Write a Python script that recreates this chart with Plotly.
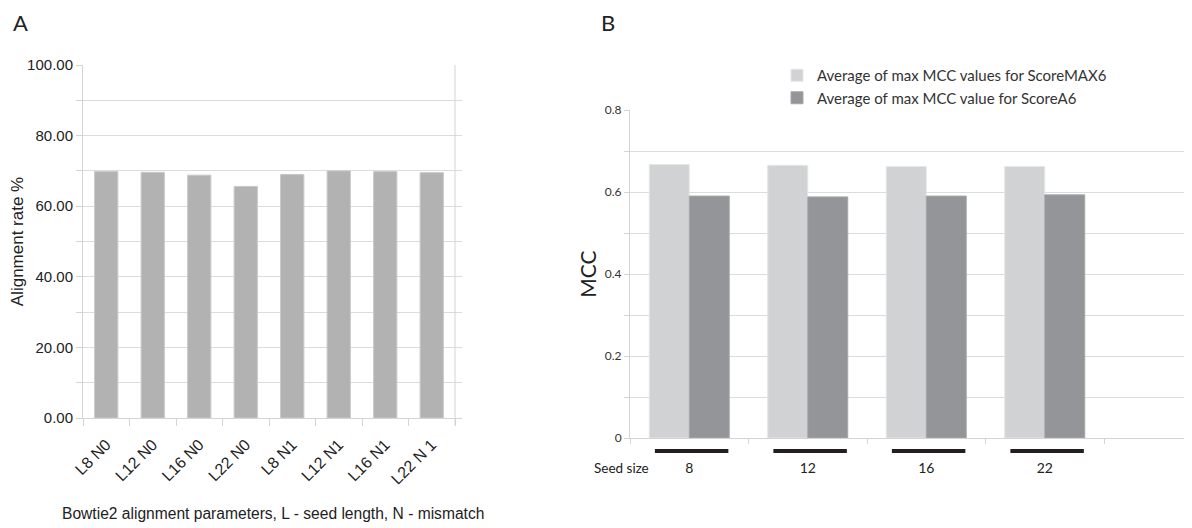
import plotly.graph_objects as go

# ---------------- data ----------------
a_categories = ["L8 N0", "L12 N0", "L16 N0", "L22 N0", "L8 N1", "L12 N1", "L16 N1", "L22 N 1"]
a_values = [69.8, 69.6, 68.8, 65.6, 69.0, 70.0, 69.8, 69.5]

b_seed_sizes = ["8", "12", "16", "22"]
b_scoremax6 = [0.667, 0.665, 0.662, 0.662]
b_scorea6 = [0.590, 0.588, 0.590, 0.593]
b_names = ["Average of max MCC values for ScoreMAX6", "Average of max MCC value for ScoreA6"]

# page body has an 8px margin: the figure fills the rest of the 1192x528 window
OFF = 8
W, H = 1192 - OFF, 528 - OFF


def px(x):
    return (x - OFF) / W


def py(y):
    return 1 - (y - OFF) / H


FA = "Liberation Sans, Arial, sans-serif"
FB = "Lato, sans-serif"
GRID = "#dcdcdc"
LINE = "#d4d4d4"

fig = go.Figure()

a_x = list(range(len(a_categories)))
fig.add_trace(go.Bar(
    x=a_x, y=a_values, width=0.5,
    marker=dict(color="#b2b2b2", line=dict(color="#c8c8c8", width=1)),
    showlegend=False, xaxis="x", yaxis="y",
))

b_x = list(range(len(b_seed_sizes)))
fig.add_trace(go.Bar(
    x=b_x, y=b_scoremax6, name=b_names[0],
    marker=dict(color="#d1d2d4", line=dict(color="#e4e5e6", width=1)),
    xaxis="x2", yaxis="y2",
))
fig.add_trace(go.Bar(
    x=b_x, y=b_scorea6, name=b_names[1],
    marker=dict(color="#939598", line=dict(color="#a4a6a8", width=1)),
    xaxis="x2", yaxis="y2",
))

# panel geometry (window pixels)
a_left, a_right, a_top, a_bottom = 83, 462, 65, 418
a_cat_px = 46.5
b_left, b_right, b_top, b_bottom = 630, 1192, 110, 438
b_cat_px = 118.5

a_range = [-0.5, -0.5 + (a_right - a_left) / a_cat_px]
b_range = [-0.5, -0.5 + (b_right - b_left) / b_cat_px]

fig.update_layout(
    width=W, height=H,
    margin=dict(l=0, r=0, t=0, b=0, autoexpand=False),
    paper_bgcolor="white", plot_bgcolor="white",
    barmode="group", bargap=0.325, bargroupgap=0,
    showlegend=True,
    legend=dict(
        x=px(777), y=py(59), xanchor="left", yanchor="top",
        font=dict(family=FB, size=15, color="#333"),
        bgcolor="rgba(0,0,0,0)", tracegroupgap=0,
    ),
    xaxis=dict(
        domain=[px(a_left), px(a_right)], range=a_range, anchor="y", automargin=False,
        tickvals=a_x, ticktext=a_categories, tickangle=-45,
        ticks="", ticklabelstandoff=10,
        tickfont=dict(family=FA, size=16, color="#222"),
        showgrid=False, zeroline=False,
        showline=True, linecolor=LINE, linewidth=1,
        minor=dict(ticks="outside", tick0=0.5, dtick=1, ticklen=7, tickcolor=LINE, showgrid=False),
    ),
    yaxis=dict(
        domain=[py(a_bottom), py(a_top)], range=[0, 100], anchor="x", automargin=False,
        dtick=20, tickformat=".2f",
        ticks="outside", ticklen=6, tickcolor=LINE,
        tickfont=dict(family=FA, size=15, color="#222"),
        showgrid=True, gridcolor=GRID, zeroline=False,
        showline=True, linecolor=LINE,
        minor=dict(dtick=10, showgrid=True, gridcolor=GRID, ticks="outside", ticklen=6, tickcolor=LINE),
        title=dict(text="Alignment rate %", font=dict(family=FA, size=17, color="#222"), standoff=0),
    ),
    xaxis2=dict(
        domain=[px(b_left), 1.0], range=b_range, anchor="y2", automargin=False,
        tickvals=b_x, ticktext=b_seed_sizes,
        ticks="", ticklabelstandoff=17,
        tickfont=dict(family=FB, size=14, color="#222"),
        showgrid=False, zeroline=False,
        showline=True, linecolor=LINE, linewidth=1,
        minor=dict(ticks="outside", tick0=0.5, dtick=1, ticklen=5, tickcolor=LINE, showgrid=False),
    ),
    yaxis2=dict(
        domain=[py(b_bottom), py(b_top)], range=[0, 0.8], anchor="x2", automargin=False,
        tickvals=[0, 0.2, 0.4, 0.6, 0.8], ticktext=["0", "0.2", "0.4", "0.6", "0.8"],
        ticks="outside", ticklen=5, tickcolor=LINE,
        tickfont=dict(family=FB, size=12, color="#333"),
        showgrid=True, gridcolor=GRID, zeroline=False,
        showline=True, linecolor=LINE,
        minor=dict(dtick=0.1, showgrid=True, gridcolor=GRID, ticks="outside", ticklen=5, tickcolor=LINE),
        title=dict(text="MCC", font=dict(family=FB, size=21, color="#222"), standoff=2),
    ),
)

# right border of panel A at the last category boundary
fig.add_shape(type="line", xref="x", yref="paper",
              x0=len(a_categories) - 0.5, x1=len(a_categories) - 0.5,
              y0=py(a_bottom + 7), y1=py(a_top),
              line=dict(color=LINE, width=1))

# black bars under each seed-size group
for i in b_x:
    fig.add_shape(type="line", xref="x2", yref="paper",
                  x0=i - 0.29, x1=i + 0.33, y0=py(451), y1=py(451),
                  line=dict(color="#231f20", width=4))

fig.add_annotation(text="Bowtie2 alignment parameters, L - seed length, N - mismatch",
                   x=px(273), y=py(513), xref="paper", yref="paper",
                   xanchor="center", yanchor="middle",
                   showarrow=False, font=dict(family=FA, size=15.6, color="#222"))
fig.add_annotation(text="Seed size", x=px(592), y=py(468), xref="paper", yref="paper",
                   xanchor="left", yanchor="middle",
                   showarrow=False, font=dict(family=FB, size=13.5, color="#222"))
fig.add_annotation(text="A", x=px(12), y=py(8), xref="paper", yref="paper",
                   xanchor="left", yanchor="top", borderpad=0,
                   showarrow=False, font=dict(family=FB, size=22, color="#222"))
fig.add_annotation(text="B", x=px(600), y=py(8), xref="paper", yref="paper",
                   xanchor="left", yanchor="top", borderpad=0,
                   showarrow=False, font=dict(family=FB, size=22, color="#222"))

fig.write_html("out.html")
